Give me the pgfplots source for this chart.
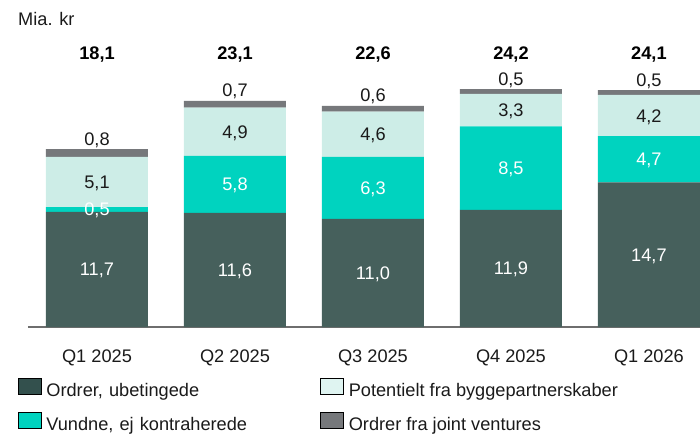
\documentclass[border=0pt]{standalone}
\usepackage{pgfplots}
\pgfplotsset{compat=1.18}
\usepackage{fontspec}
\setmainfont{Liberation Sans}
\definecolor{cdark}{HTML}{46605C}
\definecolor{cturq}{HTML}{00D3BF}
\definecolor{clight}{HTML}{CDEDE7}
\definecolor{cgray}{HTML}{76787B}
\definecolor{ldark}{HTML}{33504D}
\definecolor{llight}{HTML}{DFF4F1}
\definecolor{cline}{HTML}{6E6E6E}
\definecolor{ctext}{HTML}{1A1A1A}
\newcommand\lab{\fontsize{18.2}{21}\selectfont}
\tikzset{
  vl/.style={anchor=base, yshift=-6.5pt, font=\lab, inner sep=0pt, text=white},
  vd/.style={anchor=base, yshift=-6.5pt, font=\lab, inner sep=0pt, text=ctext},
  vt/.style={anchor=base, yshift=4pt, font=\lab, inner sep=0pt, text=ctext},
  vs/.style={anchor=base, font=\lab\bfseries, inner sep=0pt, text=black},
}
\pgfplotsset{frame/.style={
  at={(28pt,107pt)}, anchor=south west,
  scale only axis, width=672pt, height=295pt,
  xmin=-0.5, xmax=4.37, ymin=0, ymax=30, clip=false}}
\begin{document}
\begin{tikzpicture}
\useasboundingbox (0pt,0pt) rectangle (700pt,434pt);
\node[anchor=base west, inner sep=0pt, font=\lab, text=ctext] at (18pt,408pt) {Mia. kr};
\begin{axis}[
  frame,
  ybar stacked, bar width=102pt,
  axis x line=bottom, axis y line=none,
  x axis line style={-, draw=cline, line width=1.2pt},
  xtick={0,1,2,3,4},
  xticklabels={Q1 2025,Q2 2025,Q3 2025,Q4 2025,Q1 2026},
  major tick length=0pt,
  xticklabel style={anchor=base, yshift=-35pt, font=\lab, text=ctext, inner sep=0pt},
  ytick=\empty,
  legend columns=2,
  legend cell align=left,
  legend image code/.code={\fill[#1] (0pt,-3.7pt) rectangle (23pt,12.3pt);},
  legend style={at={(axis description cs:-0.01488,-0.1729)}, anchor=north west,
    draw=none, fill=none, inner sep=0pt, outer sep=0pt,
    row sep=14.5pt, column sep=0pt,
    nodes={inner sep=0pt, font=\lab, text=ctext},
    /tikz/every odd column/.append style={column sep=5pt},
    /tikz/column 2/.append style={nodes={text width=274pt}}},
]
\addlegendimage{fill=ldark}
\addlegendentry{Ordrer, ubetingede}
\addlegendimage{fill=llight}
\addlegendentry{Potentielt fra byggepartnerskaber}
\addlegendimage{fill=cturq}
\addlegendentry{Vundne, ej kontraherede}
\addlegendimage{fill=cgray}
\addlegendentry{Ordrer fra joint ventures}
\addplot[fill=cdark, draw=none, forget plot] coordinates {(0,11.7) (1,11.6) (2,11.0) (3,11.9) (4,14.7)};
\addplot[fill=cturq, draw=none, forget plot] coordinates {(0,0.5) (1,5.8) (2,6.3) (3,8.5) (4,4.7)};
\addplot[fill=clight, draw=none, forget plot] coordinates {(0,5.1) (1,4.9) (2,4.6) (3,3.3) (4,4.2)};
\addplot[fill=cgray, draw=none, forget plot] coordinates {(0,0.8) (1,0.7) (2,0.6) (3,0.5) (4,0.5)};
\end{axis}
\begin{axis}[frame, hide axis]
\node[vl] at (axis cs:0,5.85) {11,7};
\node[vl] at (axis cs:1,5.8) {11,6};
\node[vl] at (axis cs:2,5.5) {11,0};
\node[vl] at (axis cs:3,5.95) {11,9};
\node[vl] at (axis cs:4,7.35) {14,7};
\node[vl] at (axis cs:0,11.95) {0,5};
\node[vl] at (axis cs:1,14.5) {5,8};
\node[vl] at (axis cs:2,14.15) {6,3};
\node[vl] at (axis cs:3,16.15) {8,5};
\node[vl] at (axis cs:4,17.05) {4,7};
\node[vd] at (axis cs:0,14.75) {5,1};
\node[vd] at (axis cs:1,19.85) {4,9};
\node[vd] at (axis cs:2,19.6) {4,6};
\node[vd] at (axis cs:3,22.05) {3,3};
\node[vd] at (axis cs:4,21.5) {4,2};
\node[vt] at (axis cs:0,18.1) {0,8};
\node[vt] at (axis cs:1,23.0) {0,7};
\node[vt] at (axis cs:2,22.5) {0,6};
\node[vt] at (axis cs:3,24.2) {0,5};
\node[vt] at (axis cs:4,24.1) {0,5};
\node[vs] at (axis cs:0,27.2) {18,1};
\node[vs] at (axis cs:1,27.2) {23,1};
\node[vs] at (axis cs:2,27.2) {22,6};
\node[vs] at (axis cs:3,27.2) {24,2};
\node[vs] at (axis cs:4,27.2) {24,1};
\end{axis}
\end{tikzpicture}
\end{document}
